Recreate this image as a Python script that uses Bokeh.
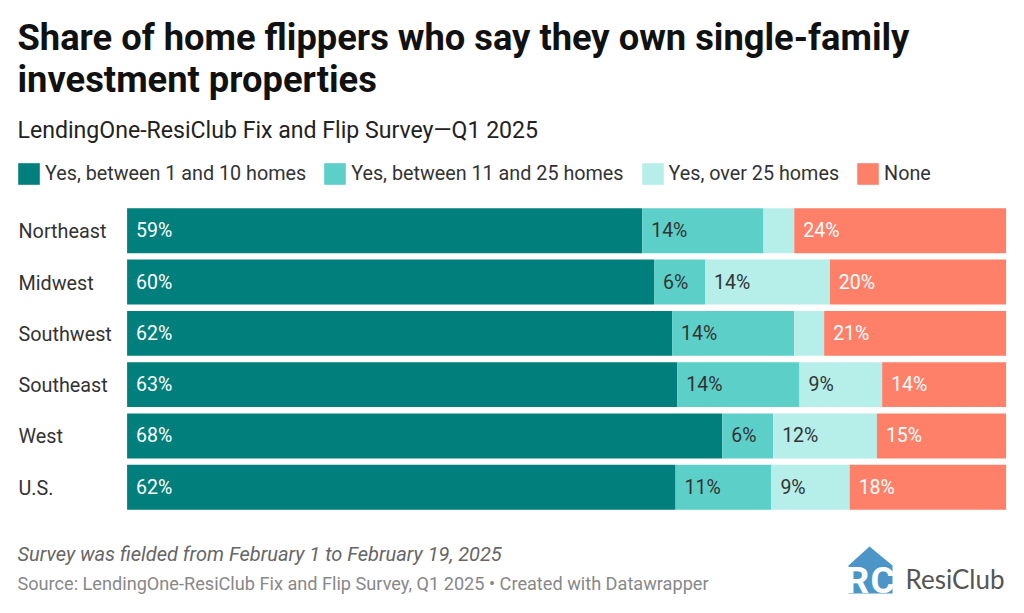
from bokeh.plotting import figure
from bokeh.models import ColumnDataSource, Label, Legend, LegendItem, PolyAnnotation
from bokeh.core.properties import value
from bokeh.embed import file_html
from bokeh.resources import INLINE
import numpy as np

regions = ["Northeast", "Midwest", "Southwest", "Southeast", "West", "U.S."]
small = [58.6, 59.95, 62.0, 62.6, 67.7, 62.4]
medium = [13.8, 5.8, 13.9, 13.9, 5.8, 10.9]
large = [3.5, 14.2, 3.4, 9.4, 11.8, 8.9]
none = [24.1, 20.05, 20.7, 14.1, 14.7, 17.8]
small_labels = ["59%", "60%", "62%", "63%", "68%", "62%"]
medium_labels = ["14%", "6%", "14%", "14%", "6%", "11%"]
large_labels = ["", "14%", "", "9%", "12%", "9%"]
none_labels = ["24%", "20%", "21%", "14%", "15%", "18%"]
series_names = ["Yes, between 1 and 10 homes", "Yes, between 11 and 25 homes", "Yes, over 25 homes", "None"]
colors = ["#007f7c", "#5dcfc9", "#b6eeea", "#ff8069"]
label_colors = ["#ffffff", "#333333", "#333333", "#ffffff"]

W, H = 1016, 605
FONT = "Roboto"
LEFT, RIGHT, TOP, BOTTOM = 126.6, 1005.6, 204.6, 512.4
ppx = (RIGHT - LEFT) / 100
ppy = (BOTTOM - TOP) / len(regions)
ypos = list(range(len(regions)))

p = figure(width=W, height=H, output_backend="svg", toolbar_location=None,
           x_range=(-LEFT / ppx, (W - LEFT) / ppx),
           y_range=(-0.5 + (BOTTOM - TOP + H - BOTTOM) / ppy, -0.5 - TOP / ppy),
           min_border=0, outline_line_color=None,
           background_fill_color="#ffffff", border_fill_color="#ffffff")
p.grid.visible = False
p.xaxis.visible = False
p.yaxis.visible = False

source = ColumnDataSource(dict(y=ypos, small=small, medium=medium, large=large, none=none))
cols = ["small", "medium", "large", "none"]
bars = p.hbar_stack(cols, y="y", height=0.875, color=colors, line_color=None, source=source)

lists = [small, medium, large, none]
labels = [small_labels, medium_labels, large_labels, none_labels]
start = np.zeros(len(regions))
for vals, labs, col in zip(lists, labels, label_colors):
    lab_src = ColumnDataSource(dict(x=start.copy(), y=ypos, t=labs))
    p.text(x="x", y="y", text="t", source=lab_src, x_offset=9, text_align="left",
           text_baseline="middle", text_color=col, text_font=value(FONT), text_font_size="19.5px")
    start = start + np.array(vals)

# region names, left aligned in the margin
name_src = ColumnDataSource(dict(x=[0] * len(regions), y=ypos, t=regions))
p.text(x="x", y="y", text="t", source=name_src, x_offset=18 - LEFT, y_offset=1, text_align="left",
       text_baseline="middle", text_color="#333333", text_font=value(FONT), text_font_size="19.8px")

legend = Legend(items=[LegendItem(label=n, renderers=[b]) for n, b in zip(series_names, bars)],
                orientation="horizontal", location=(15, H - 187), border_line_color=None,
                background_fill_alpha=0, margin=0, padding=0, spacing=15,
                glyph_width=27, glyph_height=27, label_standoff=3,
                label_text_font=FONT, label_text_font_size="19.75px", label_text_color="#333333")
p.add_layout(legend, "center")


def sy(y):
    return H - y


def add_text(text, x, y, size, color, style="normal", font=FONT):
    p.add_layout(Label(x=x, y=sy(y), x_units="screen", y_units="screen", text=text,
                       text_font=font, text_font_size=size, text_color=color,
                       text_font_style=style, text_baseline="middle"))


add_text("Share of home flippers who say they own single-family", 17, 37, "36.3px", "#111111", "bold")
add_text("investment properties", 17, 79, "36.3px", "#111111", "bold")
add_text("LendingOne-ResiClub Fix and Flip Survey\u2014Q1 2025", 17, 130, "23.1px", "#222222")
add_text("Survey was fielded from February 1 to February 19, 2025", 17, 553, "20px", "#666666", "italic")
add_text("Source: LendingOne-ResiClub Fix and Flip Survey, Q1 2025 \u2022 Created with Datawrapper", 17, 583, "18.15px", "#888888")

logo_x = [869, 892, 892, 848, 848]
logo_y = [546, 565, 593, 593, 565]
p.add_layout(PolyAnnotation(xs=logo_x, ys=[sy(y) for y in logo_y],
                            xs_units="screen", ys_units="screen",
                            fill_color="#4b96c6", fill_alpha=1, line_color=None))
add_text("R", 845, 580, "37px", "#ffffff", "bold")
add_text("C", 870, 580, "37px", "#ffffff", "bold")
add_text("ResiClub", 905, 578, "26px", "#555555", font="Lato")

open("out.html", "w").write(file_html(p, INLINE))
